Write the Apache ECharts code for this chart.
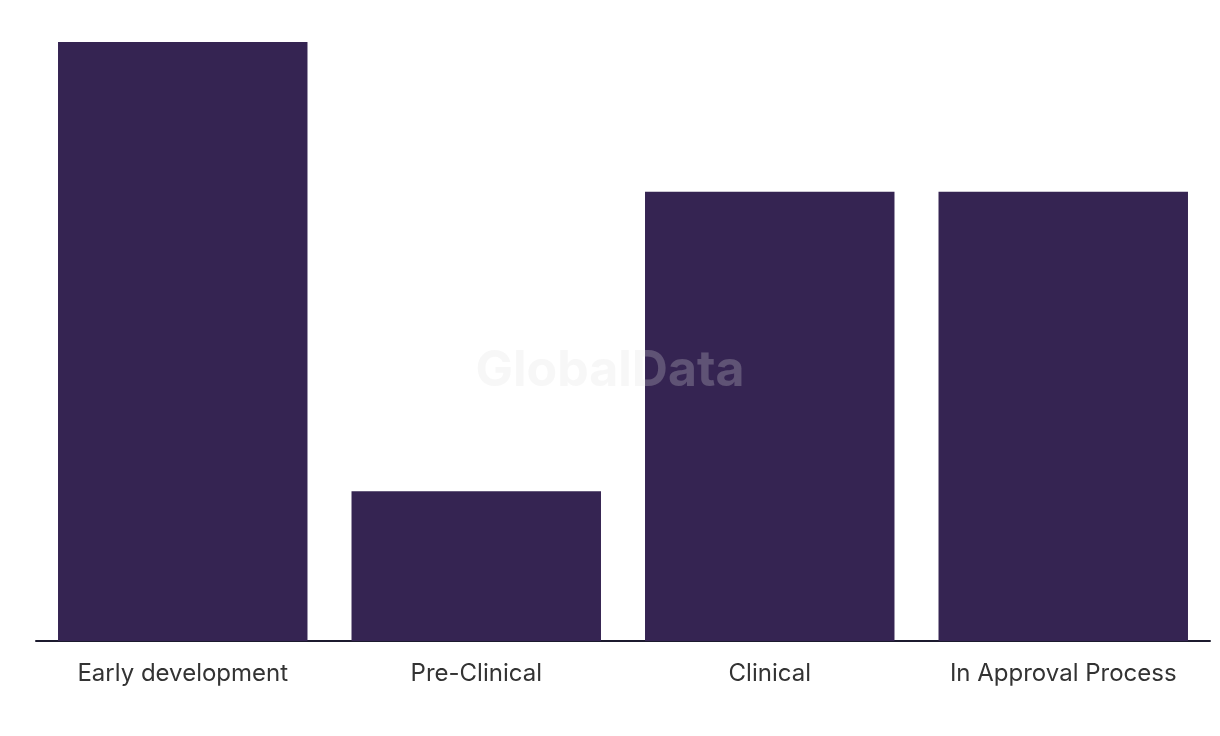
<!DOCTYPE html>
<html>
<head>
<meta charset="utf-8">
<script src="https://cdn.jsdelivr.net/npm/echarts@6/dist/echarts.min.js"></script>
<style>
html,body{margin:0;padding:0;background:#fff;}
#chart{width:1220px;height:736px;}
</style>
</head>
<body>
<div id="chart"></div>
<script>
const categories = ['Early development', 'Pre-Clinical', 'Clinical', 'In Approval Process'];
const values = [4, 1, 3, 3];

const chart = echarts.init(document.getElementById('chart'), null, {renderer: 'canvas'});
chart.setOption({
  animation: false,
  grid: {left: 36, right: 10, top: 42, bottom: 95, containLabel: false},
  xAxis: {
    type: 'category',
    data: categories,
    axisLine: {lineStyle: {color: '#1c1a2e', width: 2}},
    axisTick: {show: false},
    axisLabel: {color: '#333333', fontSize: 24, fontFamily: 'Inter', margin: 21, interval: 0, hideOverlap: false}
  },
  yAxis: {
    type: 'value',
    min: 0,
    max: 4,
    show: false,
    splitLine: {show: false}
  },
  series: [{
    type: 'bar',
    data: values,
    barCategoryGap: '15%',
    itemStyle: {color: '#352452'}
  }],
  graphic: [{
    type: 'text',
    left: 'center',
    top: 346,
    z: 100,
    style: {
      text: 'GlobalData',
      font: 'bold 50px Inter',
      fill: 'rgba(225,225,225,0.25)'
    }
  }]
});
</script>
</body>
</html>
